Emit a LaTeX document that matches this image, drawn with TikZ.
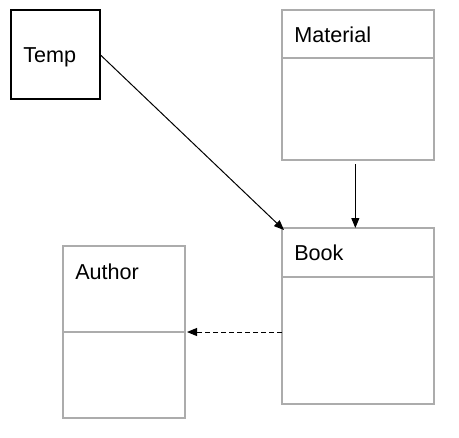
\documentclass[tikz,border=0pt]{standalone}
\usepackage{fontspec}
\setmainfont{Liberation Sans}
\usetikzlibrary{arrows.meta, positioning}
\definecolor{boxgray}{RGB}{172,172,172}

\begin{document}
\begin{tikzpicture}[x=0.75pt,y=-0.75pt,font=\fontsize{16.2}{19}\selectfont]
\useasboundingbox (0,0) rectangle (459,437);

\begin{scope}[every node/.style={draw=boxgray,line width=0.8pt,inner sep=0pt,outer sep=0pt}]
    \node[draw=black,line width=1pt,minimum width=66.75pt,minimum height=66.75pt] (temp) at (55.5,54.5) {};
    \node[minimum width=114pt,minimum height=36pt] (mathead) at (358,34) {};
    \node[minimum width=114pt,minimum height=76.5pt,below=0pt of mathead] (matbody) {};
    \node[minimum width=114pt,minimum height=36.75pt] (bookhead) at (358,252.5) {};
    \node[minimum width=114pt,minimum height=95.25pt,below=0pt of bookhead] (bookbody) {};
    \node[minimum width=91.5pt,minimum height=64.5pt] (authhead) at (124,289) {};
    \node[minimum width=91.5pt,minimum height=64.5pt,below=0pt of authhead] (authbody) {};
\end{scope}

\begin{scope}[every node/.style={anchor=base west,inner sep=0pt}]
    \node (temptitle) at ([xshift=9pt,yshift=-39pt]temp.north west) {Temp};
    \node (mattitle) at ([xshift=9pt,yshift=-24.4pt]mathead.north west) {Material};
    \node (booktitle) at ([xshift=9pt,yshift=-24.4pt]bookhead.north west) {Book};
    \node (authtitle) at ([xshift=9pt,yshift=-24.8pt]authhead.north west) {Author};
\end{scope}

\begin{scope}[>={Triangle[length=7.5pt,width=6pt]},
              every edge/.style={draw=black,line width=0.75pt}]
    \path [->] (temp.east) edge ([xshift=1.5pt,yshift=-1.5pt]bookhead.north west);
    \path [->] ([xshift=-2pt]matbody.south) edge[shorten <=3pt] ([xshift=-2pt]bookhead.north);
    \path [->] (bookbody.west |- authbody.north east) edge[dash pattern=on 3.5pt off 2.5pt,shorten >=1.5pt] (authbody.north east);
\end{scope}
\end{tikzpicture}
\end{document}
